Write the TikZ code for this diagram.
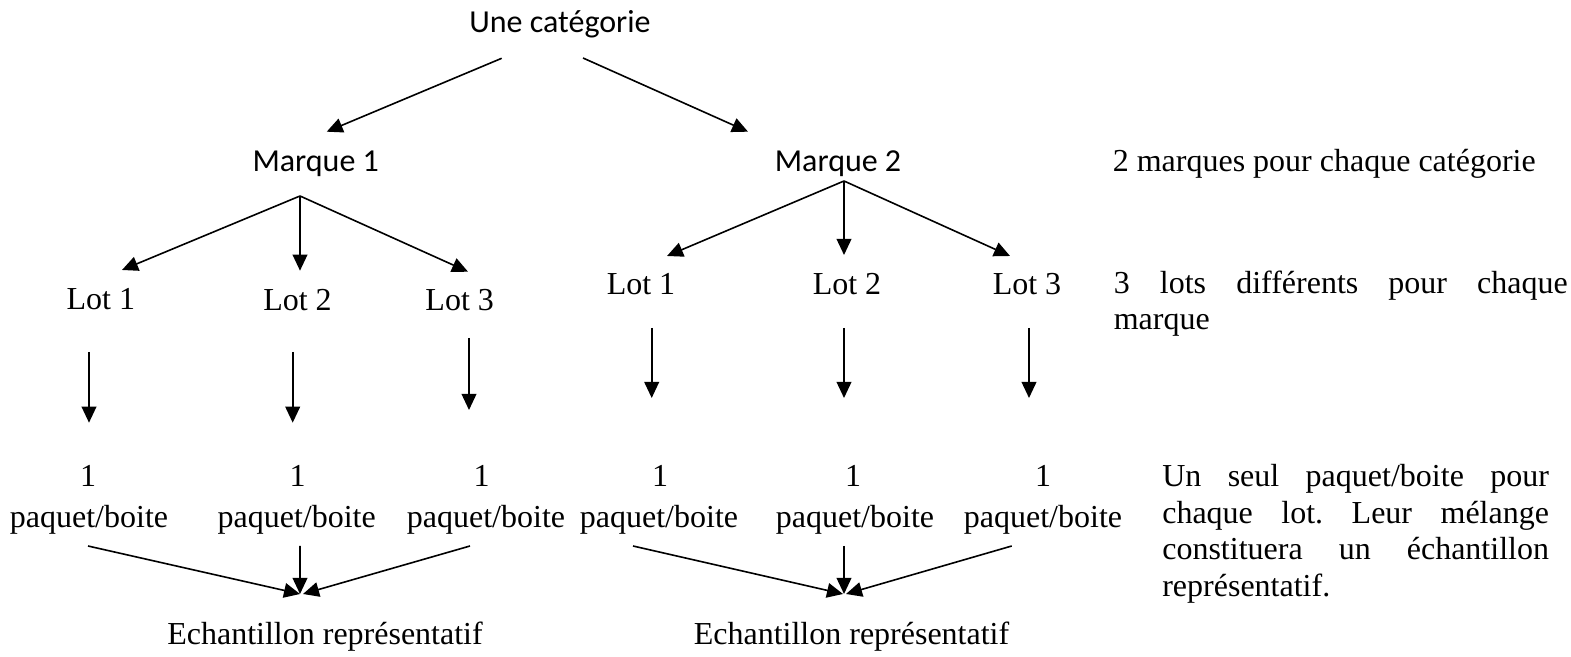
\documentclass[tikz,border=0pt]{standalone}
\usepackage{fontspec}
\setmainfont{Liberation Serif}
\newfontfamily\calibri{Carlito}
\usetikzlibrary{arrows.meta,calc}
\frenchspacing
\newcommand{\spreadline}[2]{\makebox[#1][s]{#2}}
\tikzset{
  txt/.style={anchor=base, inner sep=0pt},
  sans/.style={txt, font=\calibri\fontsize{12}{13.8}\selectfont},
  note/.style={anchor=base west, inner sep=0pt, align=left},
}
\begin{document}
\begin{tikzpicture}[x=0.375pt, y=-0.375pt, line width=0.6pt,
	>={Triangle[length=6pt,width=5.5pt]}, font=\fontsize{12}{13.8}\selectfont]
	\useasboundingbox (0,0) rectangle (1571,657);
	% categorie et marques
	\node[sans] (cat) at (560,33) {Une catégorie};
	\node[sans] (m1) at (315.7,171.7) {Marque 1};
	\node[sans] (m2) at (838,171.7) {Marque 2};
	\draw[->] ($(cat.base)+(-58.3,25.3)$) -- ($(m1.base)+(11,-40)$);
	\draw[->] ($(cat.base)+(23,25)$) -- ($(m2.base)+(-90,-40)$);
	% lots
	\foreach \n/\t/\x/\y in {11/1/100.8/310, 12/2/297.5/311, 13/3/459.7/311, 21/1/641/295, 22/2/847/295, 23/3/1027/295}
	\node[txt] (l\n) at (\x,\y) {Lot \t};
	\coordinate (m1f) at ($(m1.base)+(-15.7,24.3)$);
	\coordinate (m2f) at ($(m2.base)+(6,9.3)$);
	\draw[->] (m1f) -- ($(l11.base)+(21.2,-40)$);
	\draw[->] (m1f) -- ($(m1f |- l12.base)+(0,-40.3)$);
	\draw[->] (m1f) -- ($(l13.base)+(8.3,-39.3)$);
	\draw[->] (m2f) -- ($(l21.base)+(26,-39)$);
	\draw[->] (m2f) -- ($(m2f |- l22.base)+(0,-40)$);
	\draw[->] (m2f) -- ($(l23.base)+(-17,-39)$);
	% paquets
	\foreach \n/\xa/\xb in {11/88/89, 12/297.7/296.7, 13/481.7/486, 21/660/659, 22/853/855, 23/1043/1043} {
		\node[txt] (o\n) at (\xa,486.7) {1};
		\node[txt] (p\n) at (\xb,528) {paquet/boite};
	}
	\foreach \n/\dx/\da/\db in {11/1/42/64, 12/-5/41/64, 13/-12.7/27/76.7, 21/-8.3/33/88.7, 22/-9/33/88.7, 23/-14/33/88.7}
	\draw[->] ($(o\n.base |- l\n.base)+(\dx,\da)$) -- ($(o\n.base)+(\dx,-\db)$);
	% echantillons
	\node[txt] (e1) at (325,645) {Echantillon représentatif};
	\node[txt] (e2) at (851.5,645) {Echantillon représentatif};
	\coordinate (j1) at ($(e1.base)+(-25,-51)$);
	\coordinate (j2) at ($(e2.base)+(-7.5,-51)$);
	\draw[->] ($(p11.base)+(-1,18)$) -- (j1);
	\draw[->] ($(p12.base)+(3.3,18)$) -- (j1);
	\draw[->] ($(p13.base)+(-16,18)$) -- ($(j1)+(3,0)$);
	\draw[->] ($(p21.base)+(-26,18)$) -- ($(j2)+(-1,0)$);
	\draw[->] ($(p22.base)+(-11,18)$) -- (j2);
	\draw[->] ($(p23.base)+(-31.3,18)$) -- ($(j2)+(2,0)$);
	% notes (base = last line)
	\node[note] (n1) at (1112,171.7) {2 marques pour chaque catégorie};
	\node[note] (n2) at (1113,330) {\spreadline{170.25pt}{3 lots différents pour chaque}\\marque};
	\node[note] (n3) at (1161.5,596.7) {\spreadline{145pt}{Un seul paquet/boite pour}\\\spreadline{145pt}{chaque lot. Leur mélange}\\\spreadline{145pt}{constituera un échantillon}\\représentatif.};
\end{tikzpicture}
\end{document}
